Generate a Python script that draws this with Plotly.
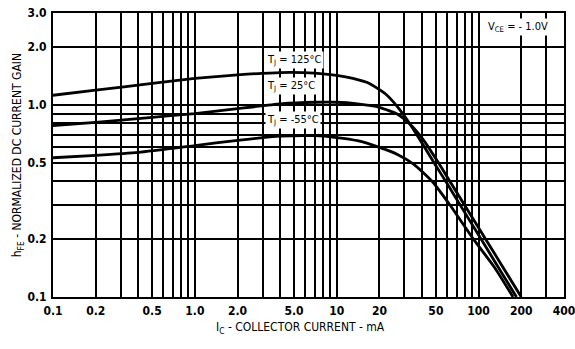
import math
import plotly.graph_objects as go

# Collector current (mA) and normalized DC current gain for each junction temperature
ic_125 = [0.1, 0.2, 0.5, 1, 2, 4, 7, 10, 13, 17, 22, 27, 33, 40, 50, 60, 75, 100, 130, 185]
hfe_125 = [1.12, 1.19, 1.29, 1.37, 1.43, 1.47, 1.46, 1.42, 1.37, 1.29, 1.14, 0.97, 0.79, 0.63, 0.482, 0.389, 0.297, 0.210, 0.153, 0.10]

ic_25 = [0.1, 0.2, 0.5, 1, 2, 4, 7, 10, 14, 20, 27, 33, 40, 52, 64, 82, 113, 150, 200]
hfe_25 = [0.78, 0.81, 0.86, 0.90, 0.955, 1.01, 1.03, 1.03, 1.01, 0.97, 0.89, 0.79, 0.67, 0.50, 0.390, 0.290, 0.198, 0.141, 0.10]

ic_m55 = [0.1, 0.2, 0.4, 1, 2, 4, 7, 10, 14, 20, 27, 35, 47, 63, 92, 130, 175]
hfe_m55 = [0.53, 0.545, 0.565, 0.613, 0.653, 0.686, 0.69, 0.675, 0.65, 0.60, 0.55, 0.49, 0.40, 0.30, 0.20, 0.142, 0.10]

x_tick_vals = [0.1, 0.2, 0.5, 1, 2, 5, 10, 20, 50, 100, 200, 400]
x_tick_text = ["0.1", "0.2", "0.5", "1.0", "2.0", "5.0", "10", "20", "50", "100", "200", "400"]
y_tick_vals = [0.1, 0.2, 0.5, 1, 2, 3]
y_tick_text = ["0.1", "0.2", "0.5", "1.0", "2.0", "3.0"]

x_grid = [m * 10 ** e for e in (-1, 0, 1) for m in range(1, 10)] + [100, 200, 300, 400]
y_grid = [m / 10 for m in range(1, 10)] + [1, 2, 3]

FONT = "Liberation Sans Narrow, DejaVu Sans Condensed, Arial Narrow, sans-serif"

fig = go.Figure()
for ic, hfe in ((ic_125, hfe_125), (ic_25, hfe_25), (ic_m55, hfe_m55)):
    fig.add_trace(go.Scatter(x=ic, y=hfe, mode="lines",
                             line=dict(color="black", width=2.8, shape="spline", smoothing=0.5),
                             showlegend=False, hoverinfo="skip"))

axis_common = dict(
    type="log", showline=True, linecolor="black", linewidth=2, mirror=True,
    showgrid=True, gridcolor="black", gridwidth=1.5, ticks="", zeroline=False,
    automargin=False, ticklabeloverflow="allow",
    tickfont=dict(family=FONT, size=12, color="black", weight="bold"),
)

fig.update_xaxes(
    **axis_common, range=[math.log10(0.1), math.log10(400)],
    tickmode="array", tickvals=x_tick_vals, ticktext=x_tick_text, ticklabelstandoff=2,
    minor=dict(tickmode="array", tickvals=x_grid, showgrid=True, gridcolor="black",
               gridwidth=1.5, ticks=""),
)
fig.update_yaxes(
    **axis_common, range=[math.log10(0.1), math.log10(3)],
    tickmode="array", tickvals=y_tick_vals, ticktext=y_tick_text, ticklabelstandoff=2,
    minor=dict(tickmode="array", tickvals=y_grid, showgrid=True, gridcolor="black",
               gridwidth=1.5, ticks=""),
)

label_font = dict(family=FONT, size=11, color="black")
curve_labels = [("T<sub>J</sub> = 125°C", 3.1, 1.70),
                ("T<sub>J</sub> = 25°C", 3.1, 1.245),
                ("T<sub>J</sub> = -55°C", 3.1, 0.828)]
for text, xv, yv in curve_labels:
    fig.add_annotation(x=math.log10(xv), y=math.log10(yv), text=text, showarrow=False,
                       xanchor="left", yanchor="middle", font=label_font,
                       bgcolor="white", borderpad=1)

fig.add_annotation(x=math.log10(320), y=math.log10(2.55), text="V<sub>CE</sub> = - 1.0V",
                   showarrow=False, xanchor="right", yanchor="middle", font=label_font,
                   bgcolor="white", borderpad=1)

fig.add_annotation(xref="paper", yref="paper", x=0.485, y=-0.075, yanchor="top",
                   text="I<sub>C</sub> - COLLECTOR CURRENT - mA", showarrow=False,
                   font=dict(family=FONT, size=12, color="black"))
fig.add_annotation(xref="paper", yref="paper", x=-0.068, y=0.5, xanchor="center",
                   text="h<sub>FE</sub> - NORMALIZED DC CURRENT GAIN", showarrow=False,
                   textangle=-90, font=dict(family=FONT, size=12, color="black"))

fig.update_layout(
    width=575, height=349, margin=dict(l=53, r=11, t=13, b=52),
    paper_bgcolor="white", plot_bgcolor="white",
)

fig.write_html("out.html")
